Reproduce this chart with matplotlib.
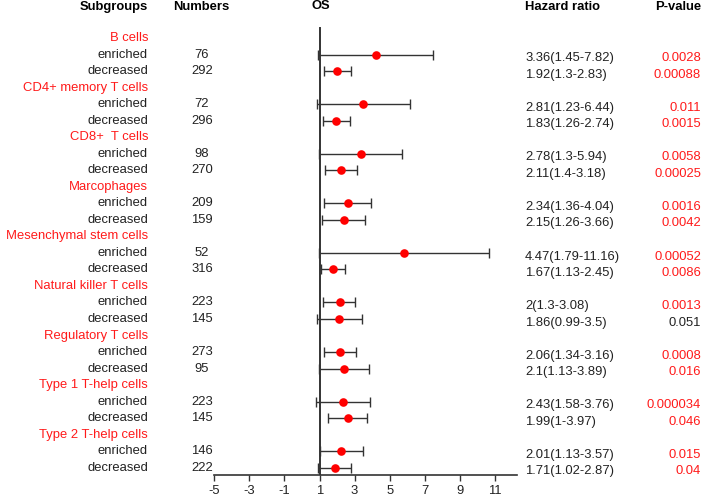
import matplotlib
matplotlib.use("Agg")
import matplotlib.pyplot as plt

plt.rcParams['font.family'] = ['Liberation Sans', 'DejaVu Sans']
plt.rcParams['axes.unicode_minus'] = False

groups = ["B cells", "CD4+ memory T cells", "CD8+  T cells", "Marcophages",
          "Mesenchymal stem cells", "Natural killer T cells", "Regulatory T cells",
          "Type 1 T-help cells", "Type 2 T-help cells"]
levels = ["enriched", "decreased"]
numbers = [76, 292, 72, 296, 98, 270, 209, 159, 52, 316, 223, 145, 273, 95, 223, 145, 146, 222]

# plotted estimates (as drawn in the picture)
plot_hr = [4.22, 2.01, 3.48, 1.95, 3.34, 2.24, 2.60, 2.37, 5.82, 1.74, 2.14, 2.12, 2.18, 2.37, 2.31, 2.60, 2.24, 1.86]
plot_lo = [0.94, 1.23, 0.83, 1.19, 0.97, 1.32, 1.23, 1.15, 0.97, 1.08, 1.21, 0.85, 1.25, 0.97, 0.79, 1.50, 1.02, 0.92]
plot_hi = [7.49, 2.81, 6.18, 2.71, 5.72, 3.11, 3.95, 3.57, 10.66, 2.45, 3.02, 3.40, 3.08, 3.80, 3.86, 3.70, 3.48, 2.81]

hr_text = ["3.36(1.45-7.82)", "1.92(1.3-2.83)", "2.81(1.23-6.44)", "1.83(1.26-2.74)",
           "2.78(1.3-5.94)", "2.11(1.4-3.18)", "2.34(1.36-4.04)", "2.15(1.26-3.66)",
           "4.47(1.79-11.16)", "1.67(1.13-2.45)", "2(1.3-3.08)", "1.86(0.99-3.5)",
           "2.06(1.34-3.16)", "2.1(1.13-3.89)", "2.43(1.58-3.76)", "1.99(1-3.97)",
           "2.01(1.13-3.57)", "1.71(1.02-2.87)"]
p_text = ["0.0028", "0.00088", "0.011", "0.0015", "0.0058", "0.00025", "0.0016", "0.0042",
          "0.00052", "0.0086", "0.0013", "0.051", "0.0008", "0.016", "0.000034", "0.046",
          "0.015", "0.04"]
p_values = [float(p) for p in p_text]
xticks = [-5, -3, -1, 1, 3, 5, 7, 9, 11]

W, H = 708, 496
fig = plt.figure(figsize=(W / 100, H / 100), dpi=100)
ax_left_px, ax_right_px = 214.3, 517.0
ax = fig.add_axes([ax_left_px / W, (H - 475) / H, (ax_right_px - ax_left_px) / W, 475 / H])
ax.set_xlim(-5, 12.26)
ax.set_ylim(26.44, -2.30)

def axx(px):
    return (px - ax_left_px) / (ax_right_px - ax_left_px)

tr = ax.get_yaxis_transform()
fs = 9.4
red = "#ff1a1a"
dark = "#333333"

# header
hy = -1.89
ax.text(axx(148), hy, "Subgroups", transform=tr, ha="right", va="center", fontsize=fs, fontweight="bold", clip_on=False)
ax.text(axx(201), hy, "Numbers", transform=tr, ha="center", va="center", fontsize=fs, fontweight="bold", clip_on=False)
ax.text(axx(321), -1.95, "OS", transform=tr, ha="center", va="center", fontsize=fs, fontweight="bold", clip_on=False)
ax.text(axx(525), hy, "Hazard ratio", transform=tr, ha="left", va="center", fontsize=fs, fontweight="bold", clip_on=False)
ax.text(axx(701), hy, "P-value", transform=tr, ha="right", va="center", fontsize=fs, fontweight="bold", clip_on=False)

rows = []
for k, g in enumerate(groups):
    ax.text(axx(148), 3 * k, g, transform=tr, ha="right", va="center", fontsize=fs, color=red, clip_on=False)
    for j, lv in enumerate(levels):
        r = 3 * k + 1 + j
        rows.append(r)
        ax.text(axx(148), r, lv, transform=tr, ha="right", va="center", fontsize=fs, color="#222222", clip_on=False)

for i, r in enumerate(rows):
    ax.text(axx(202), r, str(numbers[i]), transform=tr, ha="center", va="center", fontsize=fs, color="#222222", clip_on=False)
    ax.text(axx(525), r + 0.22, hr_text[i], transform=tr, ha="left", va="center", fontsize=fs, color="#222222", clip_on=False)
    ax.text(axx(701), r + 0.22, p_text[i], transform=tr, ha="right", va="center", fontsize=fs,
            color=red if p_values[i] < 0.05 else "#222222", clip_on=False)

# reference line
ax.plot([1, 1], [-0.62, 26.44], color=dark, lw=1.4, zorder=1)

xerr = [[h - l for h, l in zip(plot_hr, plot_lo)], [u - h for h, u in zip(plot_hr, plot_hi)]]
ax.errorbar(plot_hr, rows, xerr=xerr, fmt="none", ecolor=dark, elinewidth=1.0, capsize=3.5, capthick=1.0, zorder=2)
ax.plot(plot_hr, rows, "o", color="red", markersize=6.2, zorder=3, markeredgewidth=0)

for s in ["top", "right", "left"]:
    ax.spines[s].set_visible(False)
ax.spines["bottom"].set_color(dark)
ax.spines["bottom"].set_linewidth(1.2)
ax.set_yticks([])
ax.set_xticks(xticks)
ax.tick_params(axis="x", length=4, width=1.0, color=dark, labelsize=fs, pad=3, labelcolor="#222222")
ax.patch.set_alpha(0)

fig.savefig("out.png", dpi=100)
